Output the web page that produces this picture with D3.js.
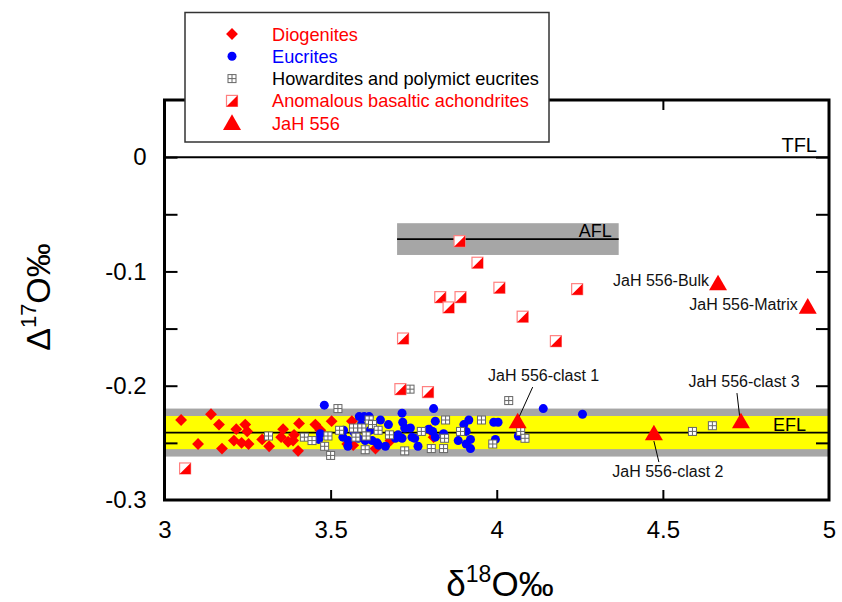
<!DOCTYPE html>
<html>
<head>
<meta charset="utf-8">
<script src="https://cdn.jsdelivr.net/npm/d3@7"></script>
<style>
  body { margin: 0; background: #fff; }
  svg { font-family: "Liberation Sans", Arial, sans-serif; }
</style>
</head>
<body>
<div id="chart"></div>
<script>
// axis ticks
const xTickLabels = [3, 3.5, 4, 4.5, 5];
const xInnerTicks = [3.5, 4, 4.5];
const yTickLabels = [0, -0.1, -0.2, -0.3];
const yInnerTicks = [0, -0.05, -0.1, -0.15, -0.2, -0.25];

// reference lines (delta17O values)
const tflValue = 0;
const eflMean = -0.241;
const eflInner = 0.0145;   // yellow band half width
const eflOuter = 0.021;    // grey band half width
const aflMean = -0.0717;
const aflHalf = 0.0139;
const aflRange = [3.70, 4.367];

// [d18O, D17O]
const diogenites = [
  [3.050, -0.230], [3.140, -0.225], [3.164, -0.234], [3.101, -0.251], [3.173, -0.255],
  [3.216, -0.238], [3.243, -0.234], [3.249, -0.240], [3.209, -0.248], [3.232, -0.250],
  [3.253, -0.251], [3.294, -0.247], [3.315, -0.253], [3.357, -0.238], [3.351, -0.245],
  [3.390, -0.243], [3.387, -0.248], [3.405, -0.233], [3.402, -0.257], [3.503, -0.231],
  [3.564, -0.231], [3.469, -0.239], [3.550, -0.251], [3.635, -0.255], [3.372, -0.249],
  [3.454, -0.234], [3.568, -0.252], [3.680, -0.248], [3.800, -0.239], [3.810, -0.245]
];

const eucrites = [
  [3.481, -0.217], [3.469, -0.242], [3.464, -0.247], [3.537, -0.245], [3.553, -0.248],
  [3.552, -0.253], [3.586, -0.227], [3.601, -0.227], [3.616, -0.227], [3.592, -0.234],
  [3.625, -0.248], [3.644, -0.252], [3.665, -0.253], [3.650, -0.230], [3.674, -0.234],
  [3.703, -0.243], [3.715, -0.224], [3.717, -0.232], [3.723, -0.237], [3.715, -0.246],
  [3.695, -0.246], [3.740, -0.237], [3.745, -0.245], [3.753, -0.246], [3.763, -0.253],
  [3.795, -0.238], [3.807, -0.240], [3.810, -0.220], [3.815, -0.231], [3.815, -0.245],
  [3.840, -0.242], [3.901, -0.234], [3.916, -0.230], [3.908, -0.240], [3.884, -0.248],
  [3.908, -0.251], [3.921, -0.247], [3.921, -0.255], [3.991, -0.232], [4.004, -0.232],
  [3.996, -0.247], [4.065, -0.244], [4.140, -0.220], [4.258, -0.225], [3.619, -0.239],
  [3.604, -0.248], [3.539, -0.239], [3.640, -0.250], [3.571, -0.241], [3.583, -0.246]
];

const howardites = [
  [3.313, -0.244], [3.421, -0.245], [3.444, -0.248], [3.482, -0.253], [3.500, -0.261],
  [3.492, -0.244], [3.522, -0.220], [3.527, -0.239], [3.569, -0.237], [3.576, -0.245],
  [3.594, -0.237], [3.616, -0.230], [3.626, -0.234], [3.607, -0.244], [3.604, -0.256],
  [3.643, -0.239], [3.677, -0.243], [3.723, -0.257], [3.773, -0.240], [3.846, -0.230],
  [3.891, -0.240], [3.843, -0.246], [3.840, -0.255], [3.803, -0.255], [3.954, -0.230],
  [3.988, -0.251], [4.036, -0.213], [4.072, -0.240], [4.085, -0.246], [4.589, -0.240],
  [4.649, -0.235], [3.739, -0.203]
];

const anomalous = [
  [3.888, -0.0735], [3.942, -0.0924], [4.008, -0.1143], [4.242, -0.1155], [3.830, -0.1225],
  [3.891, -0.1225], [3.855, -0.1315], [4.078, -0.1396], [3.718, -0.1587], [4.178, -0.1610],
  [3.710, -0.2030], [3.793, -0.2056], [3.062, -0.2724]
];

const jahNames = ["JaH 556-Bulk", "JaH 556-Matrix", "JaH 556-clast 1", "JaH 556-clast 2", "JaH 556-clast 3"];
const jahD18O = [4.666, 4.936, 4.063, 4.473, 4.735];
const jahD17O = [-0.112, -0.1324, -0.2327, -0.2432, -0.2327];

const legendLabels = ["Diogenites", "Eucrites", "Howardites and polymict eucrites", "Anomalous basaltic achondrites", "JaH 556"];

const RED = "#ff0000", BLUE = "#0000ff";

const width = 842, height = 602;
const plot = { left: 164.5, right: 829, top: 100, bottom: 500 };

const svg = d3.select("#chart").append("svg")
  .attr("width", width)
  .attr("height", height);

const x = d3.scaleLinear().domain([3, 5]).range([plot.left, plot.right]);
const y = d3.scaleLinear().domain([-0.3, 0.05]).range([plot.bottom, plot.top]);

// marker drawing helpers
function addMarker(g, type) {
  if (type === "dio") {
    g.append("path").attr("d", d3.symbol(d3.symbolSquare, 70)()).attr("transform", "rotate(45)").attr("fill", RED);
  } else if (type === "euc") {
    g.append("circle").attr("r", 4.5).attr("fill", BLUE);
  } else if (type === "how") {
    const s = 8;
    g.append("rect").attr("x", -s / 2).attr("y", -s / 2).attr("width", s).attr("height", s)
      .attr("fill", "#fff").attr("stroke", "#666").attr("stroke-width", 1);
    g.append("path").attr("d", `M0,${-s / 2}V${s / 2}M${-s / 2},0H${s / 2}`)
      .attr("stroke", "#666").attr("stroke-width", 1);
  } else if (type === "anom") {
    const s = 11;
    g.append("rect").attr("x", -s / 2).attr("y", -s / 2).attr("width", s).attr("height", s)
      .attr("fill", "#fff").attr("stroke", "#ff8080").attr("stroke-width", 1.2);
    g.append("path").attr("d", `M${s / 2},${-s / 2}L${s / 2},${s / 2}L${-s / 2},${s / 2}Z`).attr("fill", RED);
  } else if (type === "jah") {
    g.append("path").attr("d", d3.symbol(d3.symbolTriangle, 140)()).attr("fill", RED);
  }
}

// EFL bands
svg.append("rect")
  .attr("x", plot.left).attr("width", plot.right - plot.left)
  .attr("y", y(eflMean + eflOuter)).attr("height", y(eflMean - eflOuter) - y(eflMean + eflOuter))
  .attr("fill", "#a6a6a6");
svg.append("rect")
  .attr("x", plot.left).attr("width", plot.right - plot.left)
  .attr("y", y(eflMean + eflInner)).attr("height", y(eflMean - eflInner) - y(eflMean + eflInner))
  .attr("fill", "#ffff00");
svg.append("line")
  .attr("x1", plot.left).attr("x2", plot.right)
  .attr("y1", y(eflMean)).attr("y2", y(eflMean))
  .attr("stroke", "#000").attr("stroke-width", 1.8);

// AFL band
svg.append("rect")
  .attr("x", x(aflRange[0])).attr("width", x(aflRange[1]) - x(aflRange[0]))
  .attr("y", y(aflMean + aflHalf)).attr("height", y(aflMean - aflHalf) - y(aflMean + aflHalf))
  .attr("fill", "#a6a6a6");
svg.append("line")
  .attr("x1", x(aflRange[0])).attr("x2", x(aflRange[1]))
  .attr("y1", y(aflMean)).attr("y2", y(aflMean))
  .attr("stroke", "#000").attr("stroke-width", 1.8);

// TFL
svg.append("line")
  .attr("x1", plot.left).attr("x2", plot.right)
  .attr("y1", y(tflValue)).attr("y2", y(tflValue))
  .attr("stroke", "#000").attr("stroke-width", 2);

// line labels
svg.append("text").attr("x", 817).attr("y", y(tflValue) - 5).attr("text-anchor", "end")
  .attr("font-size", 20).text("TFL");
svg.append("text").attr("x", 773).attr("y", y(eflMean) - 2)
  .attr("font-size", 18).text("EFL");
svg.append("text").attr("x", x(aflRange[1]) - 7).attr("y", y(aflMean) - 2.5).attr("text-anchor", "end")
  .attr("font-size", 18).text("AFL");

// data points
const groups = [["dio", diogenites], ["euc", eucrites], ["how", howardites], ["anom", anomalous]];
groups.forEach(([type, pts]) => {
  svg.append("g").selectAll("g")
    .data(pts)
    .join("g")
    .attr("transform", d => `translate(${x(d[0])},${y(d[1])})`)
    .each(function () { addMarker(d3.select(this), type); });
});

// JaH 556 with annotations
const jah = jahNames.map((n, i) => ({ name: n, x: jahD18O[i], y: jahD17O[i] }));
const labelLayout = {
  "JaH 556-Bulk":    { dx: -9,  dy: 1,   anchor: "end" },
  "JaH 556-Matrix":  { dx: -10, dy: 2,   anchor: "end" },
  "JaH 556-clast 1": { dx: 26,  dy: -42, anchor: "middle", line: [15, -36, 0, -3] },
  "JaH 556-clast 2": { dx: 14,  dy: 42,  anchor: "middle", line: [0, 6, 5, 27] },
  "JaH 556-clast 3": { dx: 3,   dy: -36, anchor: "middle", line: [-4, -30, -1, -4] }
};

const jg = svg.append("g").selectAll("g")
  .data(jah)
  .join("g")
  .attr("transform", d => `translate(${x(d.x)},${y(d.y)})`);
jg.each(function (d) {
  const g = d3.select(this);
  const L = labelLayout[d.name];
  if (L.line) {
    g.append("line").attr("x1", L.line[0]).attr("y1", L.line[1]).attr("x2", L.line[2]).attr("y2", L.line[3])
      .attr("stroke", "#000").attr("stroke-width", 1);
  }
  addMarker(g, "jah");
  g.append("text").attr("x", L.dx).attr("y", L.dy).attr("text-anchor", L.anchor)
    .attr("font-size", 16).attr("fill", "#111").text(d.name);
});

// frame
svg.append("rect")
  .attr("x", plot.left).attr("y", plot.top)
  .attr("width", plot.right - plot.left).attr("height", plot.bottom - plot.top)
  .attr("fill", "none").attr("stroke", "#000").attr("stroke-width", 3);

// inward ticks
function tickStyle(g) {
  g.select(".domain").remove();
  g.selectAll("line").attr("stroke", "#000").attr("stroke-width", 2);
  g.selectAll("text").remove();
}
svg.append("g").attr("transform", `translate(${plot.left},0)`)
  .call(d3.axisRight(y).tickValues(yInnerTicks).tickSize(13)).call(tickStyle);
svg.append("g").attr("transform", `translate(${plot.right},0)`)
  .call(d3.axisLeft(y).tickValues(yInnerTicks).tickSize(13)).call(tickStyle);
svg.append("g").attr("transform", `translate(0,${plot.bottom})`)
  .call(d3.axisTop(x).tickValues(xInnerTicks).tickSize(10)).call(tickStyle);
svg.append("g").attr("transform", `translate(0,${plot.top})`)
  .call(d3.axisBottom(x).tickValues(xInnerTicks).tickSize(10)).call(tickStyle);

// tick labels
const yAxis = svg.append("g").attr("transform", `translate(${plot.left},0)`)
  .call(d3.axisLeft(y).tickValues(yTickLabels).tickSize(0).tickPadding(18).tickFormat(d => String(d)));
yAxis.select(".domain").remove();
yAxis.selectAll("text").attr("font-size", 24).attr("font-family", "Liberation Sans, Arial, sans-serif").attr("fill", "#000");

const xAxis = svg.append("g").attr("transform", `translate(0,${plot.bottom})`)
  .call(d3.axisBottom(x).tickValues(xTickLabels).tickSize(0).tickPadding(21).tickFormat(d => String(d)));
xAxis.select(".domain").remove();
xAxis.selectAll("text").attr("font-size", 24).attr("font-family", "Liberation Sans, Arial, sans-serif").attr("fill", "#000");

// axis titles
const xt = svg.append("text").attr("x", 500).attr("y", 596).attr("text-anchor", "middle").attr("font-size", 35);
xt.append("tspan").text("δ");
xt.append("tspan").attr("font-size", 23).attr("dy", -14).text("18");
xt.append("tspan").attr("dy", 14).text("O‰");

const yt = svg.append("text").attr("transform", "translate(50,297) rotate(-90)")
  .attr("text-anchor", "middle").attr("font-size", 34);
yt.append("tspan").text("Δ");
yt.append("tspan").attr("font-size", 22).attr("dy", -14).text("17");
yt.append("tspan").attr("dy", 14).text("O‰");

// legend
const legend = svg.append("g");
legend.append("rect").attr("x", 185).attr("y", 12.5).attr("width", 364).attr("height", 129.5)
  .attr("fill", "#fff").attr("stroke", "#333").attr("stroke-width", 1.5);
const legendTypes = ["dio", "euc", "how", "anom", "jah"];
const legendColors = [RED, BLUE, "#000", RED, RED];
legendLabels.forEach((lab, i) => {
  const cy = 34 + i * 22.3;
  const mg = legend.append("g").attr("transform", `translate(232,${cy + (i === 4 ? 1.5 : 0)})`);
  addMarker(mg, legendTypes[i]);
  legend.append("text").attr("x", 272).attr("y", cy + 6.5).attr("font-size", 18.2)
    .attr("fill", legendColors[i]).text(lab);
});
</script>
</body>
</html>
